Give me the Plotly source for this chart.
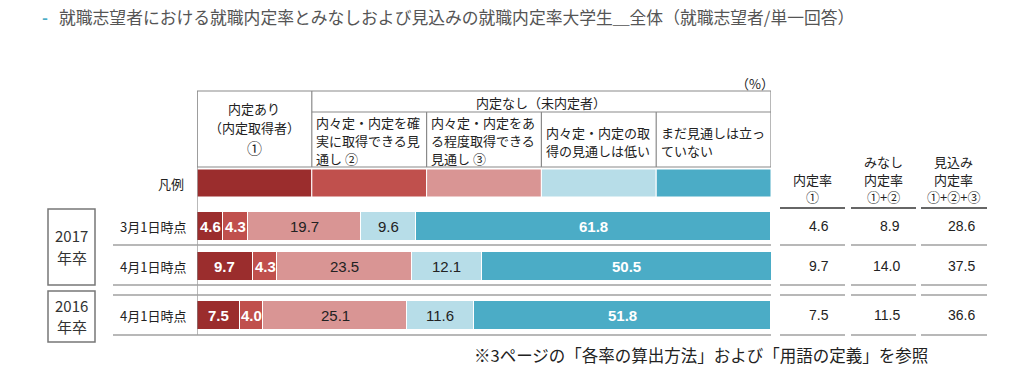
import plotly.graph_objects as go

# ---------------- data ----------------
row_labels = ["3月1日時点", "4月1日時点", "4月1日時点"]
series_names = ["内定あり（内定取得者）①",
                "内々定・内定を確実に取得できる見通し②",
                "内々定・内定をある程度取得できる見通し③",
                "内々定・内定の取得の見通しは低い",
                "まだ見通しは立っていない"]
s_naitei = [4.6, 9.7, 7.5]
s_kakujitsu = [4.3, 4.3, 4.0]
s_aruteido = [19.7, 23.5, 25.1]
s_hikui = [9.6, 12.1, 11.6]
s_mada = [61.8, 50.5, 51.8]
rate_1 = [4.6, 9.7, 7.5]
rate_12 = [8.9, 14.0, 11.5]
rate_123 = [28.6, 37.5, 36.6]
group_labels = ["2017\n年卒", "2016\n年卒"]

# ---------------- styling / layout ----------------
W, H = 1024, 389
X0, X1 = 197, 771
ROW_Y = [226, 266, 315]
LEG_Y = 183
BAR_H = 29
colors = ["#9B2D2D", "#C0504D", "#D99594", "#B7DDE8", "#4BACC6"]
text_colors = ["white", "white", "#222222", "#222222", "white"]
bold = [True, True, False, False, True]
JP = "Noto Sans CJK JP"
NUM = "Liberation Sans, Noto Sans CJK JP"
LINE = "#A0A0A0"


def px(x):
    return (x - X0) / (X1 - X0)


fig = go.Figure()
annotations = []
all_series = [s_naitei, s_kakujitsu, s_aruteido, s_hikui, s_mada]
cum = [0.0] * len(ROW_Y)
for i, vals in enumerate(all_series):
    fig.add_trace(go.Bar(
        x=vals, y=ROW_Y, orientation="h", width=BAR_H, name=series_names[i],
        marker=dict(color=colors[i], line=dict(color="white", width=1)),
        hoverinfo="skip", showlegend=False))
    for j, v in enumerate(vals):
        t = f"<b>{v:.1f}</b>" if bold[i] else f"{v:.1f}"
        annotations.append(dict(xref="x", yref="y", x=cum[j] + v / 2, y=ROW_Y[j],
                                text=t, showarrow=False, xanchor="center", yanchor="middle",
                                font=dict(size=15, color=text_colors[i], family=NUM)))
        cum[j] += v

shapes = []

# legend swatches (凡例)
for i, c in enumerate(colors):
    shapes.append(dict(type="rect", xref="x", yref="y", x0=i * 20, x1=(i + 1) * 20,
                       y0=LEG_Y - 14, y1=LEG_Y + 14, fillcolor=c,
                       line=dict(color="white", width=1), layer="below"))

# header table
hdr_line = dict(color="#8A8A8A", width=1.2)
shapes.append(dict(type="rect", xref="x", yref="y", x0=0, x1=100, y0=91, y1=167, line=hdr_line))
shapes.append(dict(type="line", xref="x", yref="y", x0=20, x1=100, y0=112, y1=112, line=hdr_line))
shapes.append(dict(type="line", xref="x", yref="y", x0=20, x1=20, y0=91, y1=167, line=hdr_line))
for xv in [40, 60, 80]:
    shapes.append(dict(type="line", xref="x", yref="y", x0=xv, x1=xv, y0=112, y1=167, line=hdr_line))

# vertical axis line
shapes.append(dict(type="line", xref="x", yref="y", x0=0, x1=0, y0=91, y1=335,
                   line=dict(color="#8A8A8A", width=1.2)))

# row separators
for yy in [245, 285, 295, 335]:
    shapes.append(dict(type="line", xref="paper", yref="y", x0=px(113), x1=px(771),
                       y0=yy, y1=yy, line=dict(color=LINE, width=1.5)))
    for a, b in [(780, 845), (851, 916), (921, 987)]:
        shapes.append(dict(type="line", xref="paper", yref="y", x0=px(a), x1=px(b),
                           y0=yy, y1=yy, line=dict(color=LINE, width=1.5)))
for a, b in [(780, 845), (851, 916), (921, 987)]:
    shapes.append(dict(type="line", xref="paper", yref="y", x0=px(a), x1=px(b),
                       y0=208, y1=208, line=dict(color="#333333", width=1.5)))

# group boxes
for (y0, y1) in [(209, 285), (291, 342)]:
    shapes.append(dict(type="rect", xref="paper", yref="y", x0=px(48), x1=px(95),
                       y0=y0, y1=y1, line=dict(color="#777777", width=1.5)))


def ann(x, y, text, size=13, color="#222222", xanchor="center", family=JP):
    annotations.append(dict(xref="paper", yref="y", x=px(x), y=y, text=text,
                            showarrow=False, xanchor=xanchor, yanchor="middle",
                            font=dict(size=size, color=color, family=family)))


# title
ann(40, 17, "<b>-</b>", size=16, color="#4BACC6", xanchor="left")
ann(57, 17, "就職志望者における就職内定率とみなしおよび見込みの就職内定率大学生＿全体（就職志望者/単一回答）",
    size=16.8, color="#555555", xanchor="left")

# (%)
ann(755, 83, "（%）", size=13)

# header texts
ann(254, 108, "内定あり", size=13)
ann(254, 127, "（内定取得者）", size=13)
ann(254, 147, "①", size=15)
ann(541, 102, "内定なし（未内定者）", size=13)
ann(314, 122, "内々定・内定を確", xanchor="left")
ann(314, 140, "実に取得できる見", xanchor="left")
ann(314, 158, "通し ②", xanchor="left")
ann(429, 122, "内々定・内定をあ", xanchor="left")
ann(429, 140, "る程度取得できる", xanchor="left")
ann(429, 158, "見通し ③", xanchor="left")
ann(544, 132, "内々定・内定の取", xanchor="left")
ann(544, 150, "得の見通しは低い", xanchor="left")
ann(659, 132, "まだ見通しは立っ", xanchor="left")
ann(659, 150, "ていない", xanchor="left")

# row labels
ann(186, LEG_Y, "凡例", size=13, xanchor="right")
for yy, lab in zip(ROW_Y, row_labels):
    ann(188, yy, lab, size=13, xanchor="right")

# group labels
for (yc, lab) in [((235, 257), group_labels[0]), ((305, 326), group_labels[1])]:
    a, b = lab.split("\n")
    ann(71.5, yc[0], a, size=15, color="#333333")
    ann(71.5, yc[1], b, size=15, color="#333333")

# right header
ann(812, 179, "内定率", size=13)
ann(812, 196, "①", size=13)
ann(883, 161, "みなし", size=13)
ann(883, 179, "内定率", size=13)
ann(883, 196, "①+②", size=13)
ann(953, 161, "見込み", size=13)
ann(953, 179, "内定率", size=13)
ann(953, 196, "①+②+③", size=13)

# right values
for yy, a, b, c in zip(ROW_Y, rate_1, rate_12, rate_123):
    ann(831, yy, f"{a:.1f}", size=14, xanchor="right", family=NUM)
    ann(902, yy, f"{b:.1f}", size=14, xanchor="right", family=NUM)
    ann(977, yy, f"{c:.1f}", size=14, xanchor="right", family=NUM)

# footnote
ann(472, 355, "※3ページの「各率の算出方法」および「用語の定義」を参照", size=16.5,
    color="#222222", xanchor="left")

fig.update_layout(
    width=W, height=H, autosize=False,
    margin=dict(l=X0, r=W - X1, t=0, b=0, pad=0),
    barmode="stack", bargap=0,
    plot_bgcolor="white", paper_bgcolor="white",
    xaxis=dict(range=[0, 100], visible=False, fixedrange=True),
    yaxis=dict(range=[H, 0], visible=False, fixedrange=True),
    shapes=shapes, annotations=annotations,
    showlegend=False,
)

fig.write_html("out.html", config={"displayModeBar": False},
               post_script="document.body.style.margin='0';")
